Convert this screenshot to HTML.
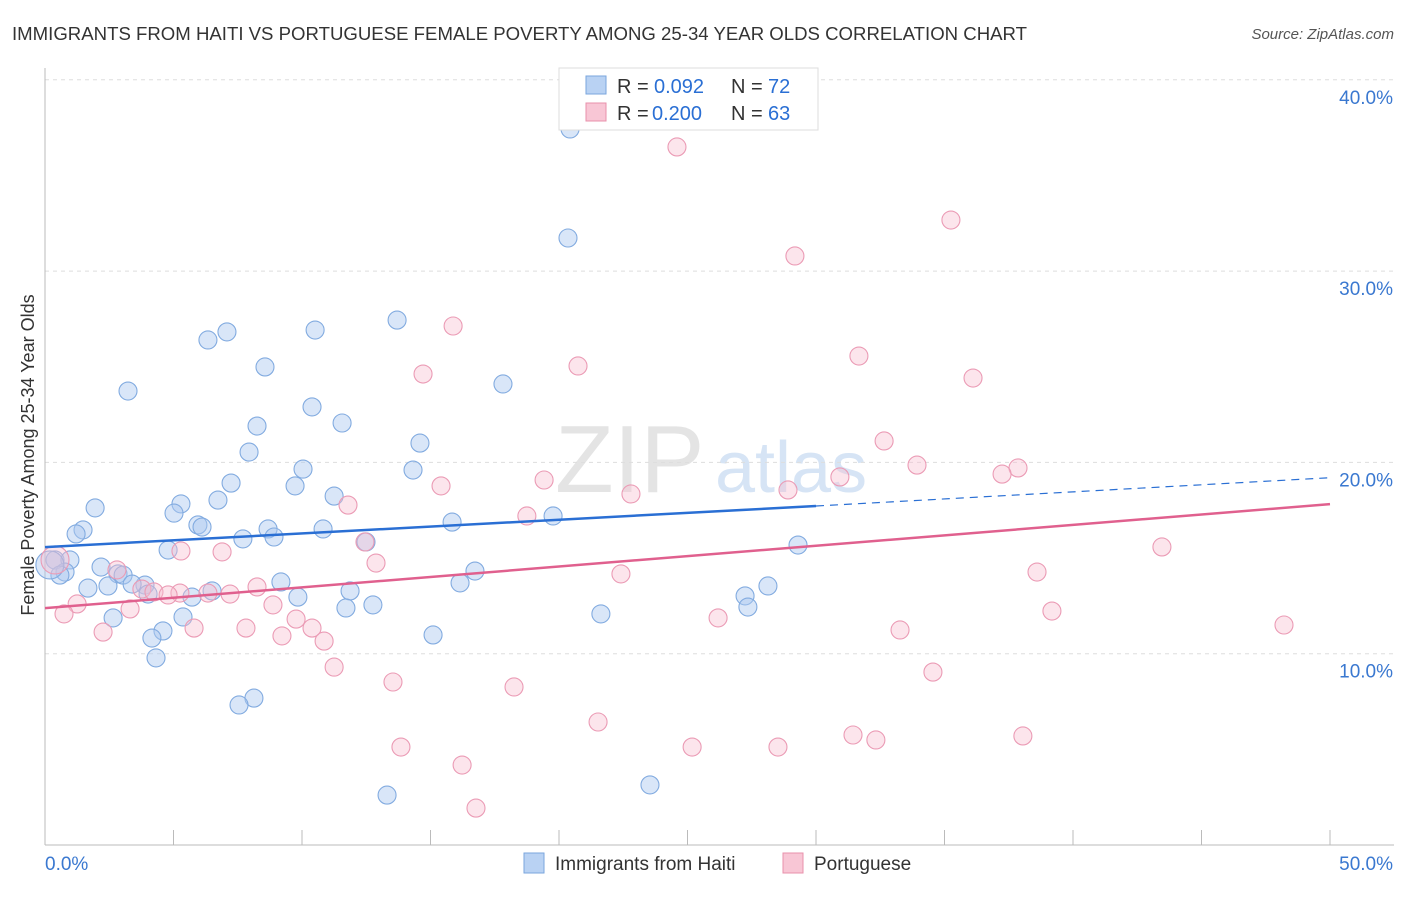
<!DOCTYPE html>
<html><head><meta charset="utf-8"><style>
body{margin:0;background:#fff;font-family:"Liberation Sans",sans-serif;}
svg text{font-family:"Liberation Sans",sans-serif;}
</style></head><body>
<svg id="c" width="1406" height="892">
<text x="12" y="40" font-size="18.6" fill="#333" textLength="1015">IMMIGRANTS FROM HAITI VS PORTUGUESE FEMALE POVERTY AMONG 25-34 YEAR OLDS CORRELATION CHART</text>
<text x="1394" y="39" font-size="15" fill="#555" font-style="italic" text-anchor="end">Source: ZipAtlas.com</text>
<text x="555" y="492" font-size="96" fill="#e4e4e4" font-family="Liberation Serif">ZIP</text>
<text x="715" y="492" font-size="72" fill="#d6e4f5">atlas</text>
<text transform="translate(34,455) rotate(-90)" font-size="18" fill="#333" text-anchor="middle">Female Poverty Among 25-34 Year Olds</text>
<g id="grid"></g><g id="pts"></g><g id="trend"></g>
<g>
<rect x="559" y="68" width="259" height="62" fill="#fff" stroke="#ddd"/>
<rect x="586" y="76" width="20" height="18" fill="#b9d2f3" stroke="#7aa6de"/>
<rect x="586" y="103" width="20" height="18" fill="#f8c6d5" stroke="#e890ab"/>
<text x="617" y="93" font-size="20" fill="#333">R =</text><text x="654" y="93" font-size="20" fill="#2a6fd4">0.092</text>
<text x="731" y="93" font-size="20" fill="#333">N =</text><text x="768" y="93" font-size="20" fill="#2a6fd4">72</text>
<text x="617" y="120" font-size="20" fill="#333">R =</text><text x="652" y="120" font-size="20" fill="#2a6fd4">0.200</text>
<text x="731" y="120" font-size="20" fill="#333">N =</text><text x="768" y="120" font-size="20" fill="#2a6fd4">63</text>
</g>
<g>
<rect x="524" y="853" width="20" height="20" fill="#b9d2f3" stroke="#7aa6de"/>
<text x="555" y="870" font-size="19" fill="#333">Immigrants from Haiti</text>
<rect x="783" y="853" width="20" height="20" fill="#f8c6d5" stroke="#e890ab"/>
<text x="814" y="870" font-size="19" fill="#333">Portuguese</text>
</g>
</svg>
<script>
const yTicks=[10,20,30,40];
const xTickLabels=["0.0%","50.0%"];
const blueX=[];const blueY=[];const pinkX=[];const pinkY=[];
const bluePx=[[570,129],[568,238],[227,332],[208,340],[315,330],[397,320],[265,367],[128,391],[503,384],[312,407],[342,423],[257,426],[420,443],[249,452],[303,469],[413,470],[231,483],[295,486],[334,496],[218,500],[95,508],[181,504],[174,513],[452,522],[553,516],[83,530],[76,534],[198,525],[202,527],[268,529],[323,529],[243,539],[274,537],[366,542],[168,550],[798,545],[55,560],[70,560],[101,567],[65,572],[118,574],[123,575],[60,575],[475,571],[145,585],[108,586],[88,588],[132,584],[148,594],[281,582],[212,591],[192,597],[350,591],[298,597],[460,583],[768,586],[745,596],[748,607],[373,605],[346,608],[601,614],[183,617],[113,618],[163,631],[152,638],[433,635],[156,658],[254,698],[239,705],[387,795],[650,785],[50,565]];
const pinkPx=[[677,147],[951,220],[795,256],[453,326],[859,356],[578,366],[423,374],[973,378],[884,441],[917,465],[1018,468],[1002,474],[544,480],[840,477],[441,486],[631,494],[788,490],[348,505],[527,516],[365,542],[222,552],[181,551],[1162,547],[376,563],[117,570],[621,574],[1037,572],[142,589],[180,593],[257,587],[154,592],[208,593],[230,594],[168,595],[77,604],[273,605],[130,609],[1052,611],[64,614],[296,619],[718,618],[312,628],[194,628],[246,628],[103,632],[282,636],[1284,625],[900,630],[324,641],[334,667],[933,672],[393,682],[514,687],[598,722],[853,735],[876,740],[1023,736],[401,747],[692,747],[778,747],[462,765],[476,808],[55,560]];
bluePx.forEach(p=>{blueX.push(+((p[0]-45)/1285*50).toFixed(2));blueY.push(+((845-p[1])/19.13).toFixed(2));});
pinkPx.forEach(p=>{pinkX.push(+((p[0]-45)/1285*50).toFixed(2));pinkY.push(+((845-p[1])/19.13).toFixed(2));});
const blueTrend=[0,15.57,30,17.72,50,19.2];
const pinkTrend=[0,12.38,50,17.82];
const NS="http://www.w3.org/2000/svg";
const X=v=>45+v/50*1285, Y=v=>845-v*19.13;
function mk(t,a,parent){const e=document.createElementNS(NS,t);for(const k in a)e.setAttribute(k,a[k]);document.getElementById(parent).appendChild(e);return e;}
yTicks.forEach(t=>{
 const l=mk('line',{x1:45,x2:1394,y1:Y(t),y2:Y(t),stroke:'#ddd','stroke-dasharray':'4,4'},'grid');
 
 
 const tx=mk('text',{x:1393,y:Y(t)+24,'font-size':19,fill:'#3a78d0','text-anchor':'end'},'grid');tx.textContent=t.toFixed(1)+'%';
 
 
});
mk('line',{x1:45,x2:45,y1:68,y2:845,stroke:'#bbb'},'grid');
mk('line',{x1:45,x2:1394,y1:845,y2:845,stroke:'#bbb'},'grid');
for(let i=0;i<=10;i++){mk('line',{x1:X(i*5),x2:X(i*5),y1:830,y2:845,stroke:'#bbb'},'grid');}
const xl0=mk('text',{x:45,y:870,'font-size':19,fill:'#3a78d0'},'grid');xl0.textContent=xTickLabels[0];


const xl1=mk('text',{x:1393,y:870,'font-size':19,fill:'#3a78d0','text-anchor':'end'},'grid');xl1.textContent=xTickLabels[1];


blueX.forEach((v,i)=>{const r=i==blueX.length-1?14:9;const c=mk('circle',{cx:X(v),cy:Y(blueY[i]),r:r,fill:'rgba(170,200,240,0.45)',stroke:'#82abe0','stroke-width':1.1},'pts');
 
 });
pinkX.forEach((v,i)=>{const r=i==pinkX.length-1?14:9;const c=mk('circle',{cx:X(v),cy:Y(pinkY[i]),r:r,fill:'rgba(247,190,208,0.4)',stroke:'#eb9bb5','stroke-width':1.1},'pts');
 
 });
const b1=mk('line',{x1:X(blueTrend[0]),y1:Y(blueTrend[1]),x2:X(blueTrend[2]),y2:Y(blueTrend[3]),stroke:'#2a6fd4','stroke-width':2.5},'trend');


const b2=mk('line',{x1:X(blueTrend[2]),y1:Y(blueTrend[3]),x2:X(blueTrend[4]),y2:Y(blueTrend[5]),stroke:'#2a6fd4','stroke-width':1.2,'stroke-dasharray':'8,6'},'trend');


const p1=mk('line',{x1:X(pinkTrend[0]),y1:Y(pinkTrend[1]),x2:X(pinkTrend[2]),y2:Y(pinkTrend[3]),stroke:'#e0608e','stroke-width':2.5},'trend');


</script>
</body></html>
